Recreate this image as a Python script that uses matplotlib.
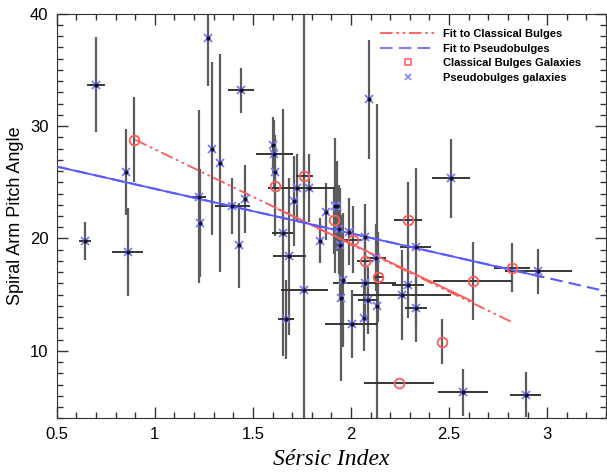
import matplotlib
matplotlib.use('Agg')
import matplotlib.pyplot as plt
from matplotlib.ticker import MultipleLocator
from matplotlib.lines import Line2D
import numpy as np

# classical bulges: sersic index, pitch angle, x error, y error
cl_n    = [0.895, 1.615, 1.763, 1.915, 2.008, 2.07, 2.14, 2.29, 2.62, 2.82, 2.465, 2.245]
cl_pa   = [28.8, 24.7, 25.6, 21.6, 19.9, 18.0, 16.6, 21.6, 16.2, 17.4, 10.8, 7.1]
cl_nerr = [0.0, 0.0, 0.042, 0.0, 0.045, 0.04, 0.03, 0.07, 0.2, 0.09, 0.0, 0.18]
cl_perr = [3.75, 4.5, 2.0, 3.0, 3.0, 3.0, 4.0, 3.4, 3.45, 2.2, 2.0, 0.0]

# pseudobulges
ps_n = [0.70, 0.852, 0.645, 0.862, 1.225, 1.23, 1.273, 1.29, 1.334, 1.395,
        1.439, 1.462, 1.43, 1.605, 1.61, 1.615, 1.725, 1.788, 1.71, 1.873,
        1.927, 1.763, 1.652, 1.686, 1.669, 1.842, 1.944, 1.957, 1.95, 2.07,
        2.13, 2.07, 2.085, 2.065, 2.005, 2.093, 1.99, 1.937, 1.92, 2.33,
        2.29, 2.26, 2.33, 2.51, 2.955, 2.57, 2.89, 2.135]
ps_pa = [33.7, 25.9, 19.75, 18.8, 23.7, 21.4, 37.8, 28.0, 26.7, 22.9,
         33.2, 23.5, 19.4, 28.3, 27.5, 25.9, 24.5, 24.5, 23.3, 22.4,
         22.9, 15.4, 20.5, 18.4, 12.8, 19.8, 19.45, 16.3, 14.7, 20.1,
         18.3, 16.05, 14.5, 12.95, 12.4, 32.4, 20.6, 20.8, 22.9, 19.25,
         15.9, 15.0, 13.8, 25.35, 17.1, 6.3, 6.1, 14.0]
ps_nerr = [0.045, 0.0, 0.03, 0.08, 0.036, 0.0, 0.0, 0.0, 0.0, 0.09,
           0.066, 0.0, 0.0, 0.0, 0.095, 0.0, 0.15, 0.13, 0.0, 0.0,
           0.0, 0.12, 0.055, 0.086, 0.04, 0.0, 0.0, 0.0, 0.0, 0.0,
           0.05, 0.16, 0.05, 0.0, 0.135, 0.0, 0.0, 0.0, 0.0, 0.08,
           0.08, 0.25, 0.055, 0.095, 0.17, 0.127, 0.08, 0.0]
ps_perr = [4.2, 3.8, 1.7, 3.9, 7.7, 4.8, 4.2, 7.7, 9.7, 2.5,
           2.0, 3.0, 3.8, 2.5, 3.0, 3.0, 3.0, 3.0, 4.0, 2.5,
           4.0, 25.0, 11.0, 7.0, 3.5, 2.0, 5.0, 6.0, 7.4, 3.0,
           3.0, 3.0, 3.0, 3.0, 3.0, 5.3, 3.0, 4.0, 6.0, 7.0,
           3.0, 4.0, 3.0, 3.5, 2.0, 2.1, 2.0, 18.0]

# fit lines (end points)
fit_cl_x = [0.9, 2.82]
fit_cl_y = [28.78, 12.56]
fit_cl_solid_x = [1.63, 2.617]
fit_cl_solid_y = [22.6, 14.42]
fit_ps_x = [0.5, 3.3]
fit_ps_y = [26.4, 15.3]
fit_ps_solid_x = [0.5, 2.97]
fit_ps_solid_y = [26.4, 16.6]

red = '#ff5a5a'
blue = '#5a5aff'
vcol = '#5c5c5c'
hcol = '#363636'

fig = plt.figure(figsize=(6.07, 4.73), dpi=100)
ax = fig.add_axes([0.0934, 0.1157, 0.905, 0.8553])

# vertical (gray) and horizontal (dark) error bars
ax.errorbar(ps_n, ps_pa, yerr=ps_perr, fmt='none', ecolor=vcol, elinewidth=1.6, capsize=0, zorder=2)
ax.errorbar(cl_n, cl_pa, yerr=cl_perr, fmt='none', ecolor=vcol, elinewidth=1.6, capsize=0, zorder=2)
ax.errorbar(ps_n, ps_pa, xerr=ps_nerr, fmt='none', ecolor=hcol, elinewidth=1.4, capsize=0, zorder=2)
ax.errorbar(cl_n, cl_pa, xerr=cl_nerr, fmt='none', ecolor=hcol, elinewidth=1.4, capsize=0, zorder=2)

ax.plot(fit_cl_x, fit_cl_y, color=red, lw=1.3, ls=(0, (7, 2, 1.5, 2, 1.5, 2)), zorder=3)
ax.plot(fit_cl_solid_x, fit_cl_solid_y, color=red, lw=1.3, zorder=3)
ax.plot(fit_ps_x, fit_ps_y, color=blue, lw=1.5, ls=(0, (6, 3)), zorder=3)
ax.plot(fit_ps_solid_x, fit_ps_solid_y, color=blue, lw=1.3, zorder=3)

ax.plot(ps_n, ps_pa, ls='none', marker='x', ms=6, mew=1.3, color='#7a7aff', zorder=4)
ax.plot(ps_n, ps_pa, ls='none', marker='o', ms=2, color='#101030', zorder=5)
ax.plot(cl_n, cl_pa, ls='none', marker='o', ms=7, mfc='none', mec=red, mew=1.3, zorder=5)

handles = [
    Line2D([], [], color=red, lw=1.3, ls=(0, (7, 2, 1.5, 2, 1.5, 2))),
    Line2D([], [], color='#7a7aff', lw=1.5, ls=(0, (6, 3))),
    Line2D([], [], ls='none', marker='s', ms=5, mfc='none', mec=red, mew=1.1),
    Line2D([], [], ls='none', marker='x', ms=5, mew=1.1, color='#7a7aff'),
]
labels = ['Fit to Classical Bulges', 'Fit to Pseudobulges',
          'Classical Bulges Galaxies', 'Pseudobulges galaxies']
leg = ax.legend(handles, labels, loc='upper left', bbox_to_anchor=(0.571, 0.987),
                frameon=False, handlelength=5.0, handletextpad=0.6, labelspacing=0.42,
                prop={'family': 'Liberation Sans', 'weight': 'bold', 'size': 8})

ax.set_xlim(0.5, 3.3)
ax.set_ylim(4, 40)
ax.xaxis.set_major_locator(MultipleLocator(0.5))
ax.xaxis.set_minor_locator(MultipleLocator(0.1))
ax.yaxis.set_major_locator(MultipleLocator(10))
ax.yaxis.set_minor_locator(MultipleLocator(1))
ax.set_xticks([0.5, 1, 1.5, 2, 2.5, 3])
ax.set_xticklabels(['0.5', '1', '1.5', '2', '2.5', '3'])
ax.tick_params(which='both', direction='in', top=True, right=True, color='#333333')
ax.tick_params(which='major', length=8, width=1)
ax.tick_params(which='minor', length=4, width=1)
ax.tick_params(axis='both', labelsize=12, pad=6)
for lab in ax.get_xticklabels() + ax.get_yticklabels():
    lab.set_family('Liberation Sans')
for s in ax.spines.values():
    s.set_color('#333333')

ax.set_ylabel('Spiral Arm Pitch Angle', fontsize=13, family='Liberation Sans', labelpad=4)
ax.set_xlabel('Sérsic Index', fontsize=17, family='Liberation Serif', style='italic', labelpad=5)

fig.savefig('out.png', dpi=100)
